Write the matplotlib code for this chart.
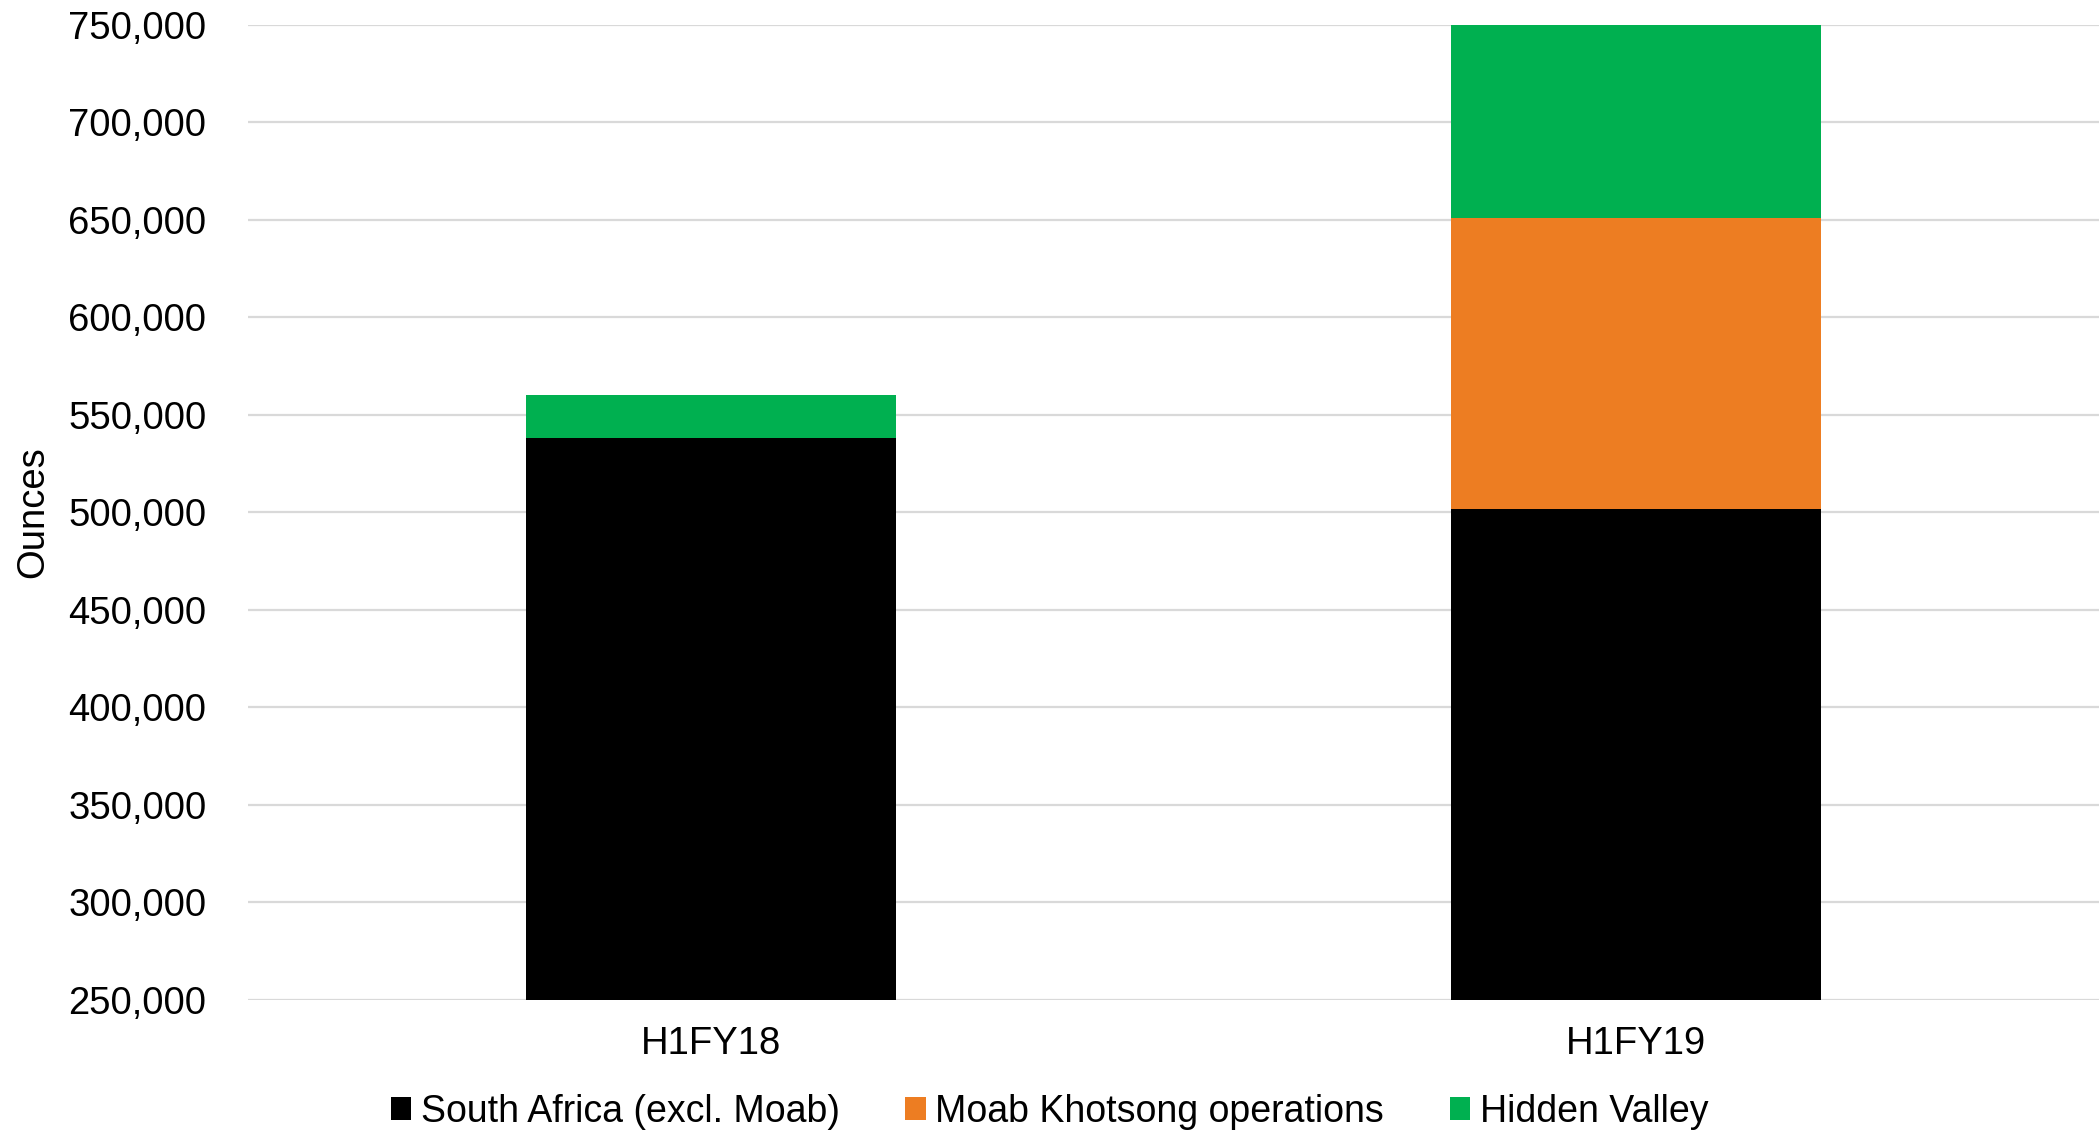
import matplotlib
matplotlib.use("Agg")
import matplotlib.pyplot as plt
from matplotlib.patches import Patch
from matplotlib.ticker import FuncFormatter

plt.rcParams['font.family'] = ['Liberation Sans', 'DejaVu Sans']

periods = ["H1FY18", "H1FY19"]
south_africa = [538000, 501500]
moab = [0, 149500]
hidden_valley = [22000, 99000]

series = [
    ("South Africa (excl. Moab)", south_africa, "#000000"),
    ("Moab Khotsong operations", moab, "#ed7d22"),
    ("Hidden Valley", hidden_valley, "#00b050"),
]

fig = plt.figure(figsize=(20.99, 11.33), dpi=100)
ax = fig.add_axes([248 / 2099, 1 - 1000 / 1133, 1 - 248 / 2099, (1000 - 24.5) / 1133])

x = range(len(periods))
bottom = [0, 0]
for label, vals, color in series:
    ax.bar(x, vals, bottom=bottom, width=0.4, color=color, label=label, zorder=3)
    bottom = [b + v for b, v in zip(bottom, vals)]

ax.set_ylim(250000, 750000)
ax.set_xlim(-0.5, 1.5)
ax.set_yticks(range(250000, 750001, 50000))
ax.yaxis.set_major_formatter(FuncFormatter(lambda v, p: f"{int(v):,}"))
ax.set_xticks(list(x))
ax.set_xticklabels(periods)
ax.grid(axis="y", color="#d9d9d9", linewidth=1.6, zorder=0)
ax.tick_params(axis="both", length=0, labelsize=27.5)
ax.tick_params(axis="y", pad=30)
ax.tick_params(axis="x", pad=19)
for s in ax.spines.values():
    s.set_visible(False)

ax.set_ylabel("Ounces", fontsize=27.5, labelpad=12)

handles = [Patch(facecolor=c, label=l) for l, _, c in series]
fig.legend(handles=handles, loc="center", bbox_to_anchor=(0.5, 1 - 1112 / 1133),
           ncol=3, frameon=False, fontsize=27, handlelength=0.55, handleheight=0.55,
           handletextpad=0.25, columnspacing=1.75)

fig.savefig("out.png", dpi=100)
